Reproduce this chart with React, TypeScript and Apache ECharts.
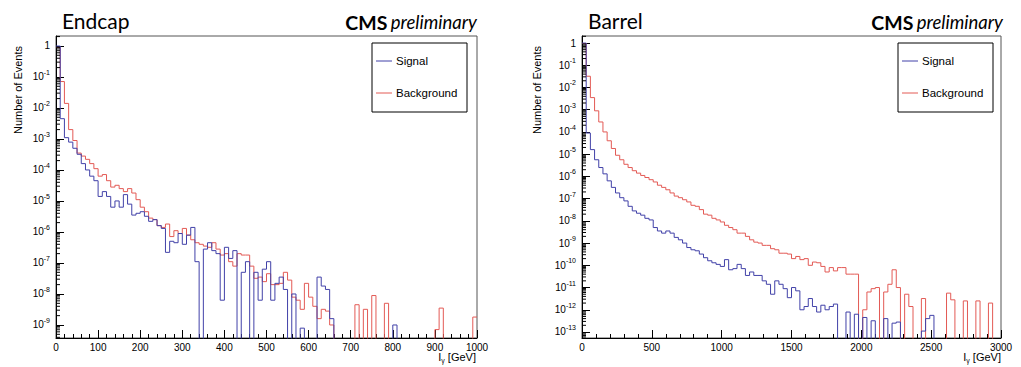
import React, { useEffect, useRef } from "react";
import * as echarts from "echarts";

// ---------------- data (normalised number of events per bin) ----------------
const endcapBinWidth = 10; // GeV, 100 bins from 0 to 1000
const barrelBinWidth = 30; // GeV, 100 bins from 0 to 3000

const endcapSignal = [
  0.99, 4.5e-3, 1.1e-3, 7.9e-4, 5.0e-4, 3.2e-4, 1.6e-4, 1.0e-4, 6.3e-5, 4.5e-5,
  1.4e-5, 2.0e-5, 1.4e-5, 6.3e-6, 1.0e-5, 6.3e-6, 1.6e-5, 7.9e-6, 3.5e-6, 4.0e-6,
  4.5e-6, 3.2e-6, 2.2e-6, 2.5e-6, 1.6e-6, 1.3e-6, 2.2e-7, 5.0e-7, 4.5e-7, 8.9e-7,
  4.0e-7, 7.9e-7, 1.4e-6, 1.1e-7, 0, 2.8e-7, 4.5e-7, 2.5e-7, 2.0e-7, 6.3e-9,
  3.2e-7, 1.4e-7, 2.5e-7, 0, 5.0e-8, 1.1e-7, 0, 5.0e-8, 6.3e-9, 6.3e-8,
  1.1e-7, 6.3e-9, 2.2e-8, 3.5e-8, 1.4e-8, 0, 1.0e-8, 0, 7.9e-10, 0,
  0, 0, 3.5e-8, 1.8e-8, 1.4e-8, 1.6e-9, 0, 0, 0, 0,
  0, 0, 0, 0, 0, 0, 0, 0, 0, 0,
  1.0e-9, 0, 0, 0, 0, 0, 0, 0, 0, 0,
  0, 0, 0, 0, 0, 0, 0, 0, 0, 0,
];

const endcapBackground = [
  0.89, 7.1e-2, 1.4e-2, 2.0e-3, 8.9e-4, 3.5e-4, 2.8e-4, 2.2e-4, 1.6e-4, 1.1e-4,
  6.3e-5, 7.1e-5, 4.5e-5, 2.8e-5, 3.2e-5, 2.5e-5, 2.0e-5, 2.5e-5, 1.8e-5, 1.1e-5,
  6.3e-6, 4.5e-6, 2.8e-6, 2.5e-6, 1.6e-6, 1.4e-6, 1.8e-6, 7.1e-7, 1.1e-6, 8.9e-7,
  1.3e-6, 7.9e-7, 5.6e-7, 4.5e-7, 4.0e-7, 3.5e-7, 3.2e-7, 4.5e-7, 2.8e-7, 1.8e-7,
  2.0e-7, 1.1e-7, 7.9e-8, 2.0e-7, 1.8e-7, 1.8e-7, 7.9e-8, 3.2e-8, 3.5e-8, 2.5e-8,
  4.5e-8, 2.0e-8, 2.0e-8, 2.2e-8, 5.0e-8, 2.8e-8, 7.9e-9, 6.3e-9, 3.2e-9, 2.2e-8,
  7.9e-9, 4.0e-9, 1.6e-9, 3.2e-9, 2.8e-9, 1.0e-9, 0, 0, 0, 0,
  0, 4.5e-9, 0, 3.2e-9, 0, 8.9e-9, 0, 0, 5.0e-9, 0,
  0, 0, 0, 0, 0, 0, 0, 0, 0, 0,
  7.1e-10, 3.5e-9, 0, 0, 0, 0, 0, 0, 0, 1.8e-9,
];

const barrelSignal = [
  0.99, 8.9e-5, 1.6e-5, 5.6e-6, 2.5e-6, 1.3e-6, 6.3e-7, 3.2e-7, 1.8e-7, 1.1e-7,
  7.9e-8, 4.5e-8, 2.8e-8, 2.2e-8, 1.8e-8, 1.3e-8, 1.1e-8, 5.0e-9, 3.5e-9, 2.8e-9,
  3.5e-9, 2.8e-9, 1.8e-9, 1.4e-9, 1.0e-9, 6.3e-10, 5.0e-10, 4.5e-10, 3.2e-10, 2.2e-10,
  1.6e-10, 1.3e-10, 1.1e-10, 8.9e-11, 1.8e-10, 6.3e-11, 7.1e-11, 1.1e-10, 7.1e-11, 3.5e-11,
  5.0e-11, 3.5e-11, 3.5e-11, 2.0e-11, 1.4e-11, 5.0e-12, 2.0e-11, 1.4e-11, 8.9e-12, 3.5e-12,
  1.0e-11, 7.1e-12, 1.0e-12, 1.4e-12, 3.2e-12, 1.4e-12, 7.9e-13, 1.6e-12, 1.0e-12, 1.4e-12,
  1.8e-12, 0, 0, 7.9e-13, 0, 6.3e-13, 0, 4.5e-13, 0, 3.2e-13,
  0, 0, 4.0e-13, 0, 2.5e-13, 2.8e-13, 0, 0, 0, 0,
  0, 1.1e-13, 4.0e-13, 5.6e-13, 0, 0, 0, 0, 0, 0,
  0, 0, 0, 0, 0, 0, 0, 0, 0, 0,
];

const barrelBackground = [
  0.95, 3.2e-2, 3.5e-3, 8.9e-4, 2.8e-4, 1.0e-4, 4.0e-5, 1.8e-5, 8.9e-6, 5.6e-6,
  3.5e-6, 2.5e-6, 1.8e-6, 1.4e-6, 1.1e-6, 8.9e-7, 7.1e-7, 5.6e-7, 4.0e-7, 3.2e-7,
  2.5e-7, 1.8e-7, 1.3e-7, 1.1e-7, 8.9e-8, 7.1e-8, 5.0e-8, 4.5e-8, 3.2e-8, 2.0e-8,
  1.8e-8, 1.3e-8, 1.1e-8, 8.9e-9, 6.3e-9, 5.0e-9, 4.0e-9, 2.8e-9, 2.8e-9, 2.0e-9,
  1.4e-9, 1.1e-9, 1.0e-9, 7.9e-10, 7.9e-10, 5.6e-10, 5.0e-10, 3.5e-10, 3.5e-10, 3.2e-10,
  2.0e-10, 2.5e-10, 1.8e-10, 2.0e-10, 1.0e-10, 1.4e-10, 1.3e-10, 8.9e-11, 5.0e-11, 7.9e-11,
  5.6e-11, 7.9e-11, 7.9e-11, 4.0e-11, 4.0e-11, 4.0e-11, 0, 1.0e-12, 6.3e-12, 8.9e-12,
  1.0e-11, 0, 6.3e-12, 1.4e-11, 6.3e-11, 1.0e-11, 0, 5.0e-12, 1.4e-12, 0,
  0, 3.2e-12, 0, 0, 0, 0, 0, 5.6e-12, 2.8e-12, 0,
  0, 2.5e-12, 0, 0, 2.5e-12, 0, 0, 2.0e-12, 0, 0,
];

// axis ranges (log10 of number of events) and x ranges
const endcapYRange = [-9.42, 0.32];
const barrelYRange = [-13.27, 0.315];
const endcapXMax = 1000;
const barrelXMax = 3000;
const endcapXInterval = 100;
const barrelXInterval = 500;

const panelTitles = ["Endcap", "Barrel"];
const legendNames = ["Signal", "Background"];
const yTitle = "Number of Events";

// ---------------- styling ----------------
const FONT = "'Liberation Sans', Arial, Helvetica, sans-serif";
const TITLE_FONT = "Lato, 'Open Sans', sans-serif";
const BLUE = "#4141a8";
const RED = "#e35a55";

const toLog = (v: number) => (v > 0 ? Math.log10(v) : -40);

function histogram(values: number[], width: number) {
  const pts: number[][] = values.map((v, i) => [i * width, toLog(v)]);
  pts.push([values.length * width, toLog(values[values.length - 1])]);
  return pts;
}

function minorTickPositions(range: number[]) {
  const out: number[][] = [];
  for (let n = Math.floor(range[0]); n <= Math.ceil(range[1]); n++) {
    for (let k = 2; k <= 9; k++) {
      const y = n + Math.log10(k);
      if (y > range[0] && y < range[1]) out.push([0, y]);
    }
  }
  return out;
}

const grids = [
  { left: 56, top: 36, width: 421, height: 302 },
  { left: 582, top: 36, width: 419, height: 302 },
];

function xAxis(gridIndex: number, max: number, interval: number) {
  return {
    type: "value",
    gridIndex,
    min: 0,
    max,
    interval,
    axisLine: { show: true, onZero: false, lineStyle: { color: "#000", width: 1 } },
    axisTick: { show: true, inside: true, length: 8, lineStyle: { color: "#000", width: 1 } },
    minorTick: { show: true, splitNumber: 5, length: 4, lineStyle: { color: "#000", width: 1 } },
    splitLine: { show: false },
    minorSplitLine: { show: false },
    axisLabel: {
      color: "#000",
      fontFamily: FONT,
      fontSize: 10,
      margin: 4,
      formatter: (v: number) => String(Math.round(v)),
    },
  };
}

function yAxis(gridIndex: number, range: number[]) {
  return {
    type: "value",
    gridIndex,
    min: range[0],
    max: range[1],
    minInterval: 1,
    maxInterval: 1,
    axisLine: { show: true, onZero: false, lineStyle: { color: "#000", width: 1 } },
    axisTick: { show: true, inside: true, length: 8, lineStyle: { color: "#000", width: 1 } },
    splitLine: { show: false },
    axisLabel: {
      showMinLabel: false,
      showMaxLabel: false,
      margin: 6,
      color: "#000",
      formatter: (v: number) => {
        const n = Math.round(v);
        if (Math.abs(v - n) > 1e-6) return "";
        if (n === 0) return "{b|1}";
        return `{b|10}{s|${n}}`;
      },
      rich: {
        b: { fontFamily: FONT, fontSize: 10, lineHeight: 16, color: "#000" },
        s: { fontFamily: FONT, fontSize: 7, lineHeight: 8, verticalAlign: "top", color: "#000" },
      },
    },
  };
}

function minorTickSeries(index: number, range: number[]) {
  return {
    type: "custom",
    xAxisIndex: index,
    yAxisIndex: index,
    silent: true,
    clip: false,
    z: 6,
    data: minorTickPositions(range),
    renderItem: (_params: any, api: any) => {
      const p = api.coord([api.value(0), api.value(1)]);
      return {
        type: "line",
        shape: { x1: p[0], y1: p[1], x2: p[0] + 4, y2: p[1] },
        style: { stroke: "#000", lineWidth: 1 },
      };
    },
  };
}

function histSeries(index: number, name: string, values: number[], width: number, color: string, z: number) {
  return {
    type: "line",
    name,
    xAxisIndex: index,
    yAxisIndex: index,
    step: "end",
    data: histogram(values, width),
    showSymbol: false,
    symbol: "none",
    clip: true,
    lineStyle: { color, width: 1 },
    itemStyle: { color },
    z,
  };
}

function legendBox(x: number) {
  const lineX0 = x + 4;
  const lineX1 = x + 20;
  const textX = x + 24;
  return [
    {
      type: "rect",
      shape: { x, y: 43, width: 95, height: 69 },
      style: { fill: "#fff", stroke: "#000", lineWidth: 1 },
      z: 10,
    },
    {
      type: "line",
      shape: { x1: lineX0, y1: 61, x2: lineX1, y2: 61 },
      style: { stroke: BLUE, lineWidth: 1 },
      z: 11,
    },
    {
      type: "text",
      style: { text: legendNames[0], x: textX, y: 61, fontFamily: FONT, fontSize: 11.5, fill: "#000", align: "left", verticalAlign: "middle", textAlign: "left", textVerticalAlign: "middle" },
      z: 11,
    },
    {
      type: "line",
      shape: { x1: lineX0, y1: 93, x2: lineX1, y2: 93 },
      style: { stroke: RED, lineWidth: 1 },
      z: 11,
    },
    {
      type: "text",
      style: { text: legendNames[1], x: textX, y: 93, fontFamily: FONT, fontSize: 11.5, fill: "#000", align: "left", verticalAlign: "middle", textAlign: "left", textVerticalAlign: "middle" },
      z: 11,
    },
  ];
}

function panelTexts(title: string, titleX: number, cmsRight: number, yTitleX: number, xTitleRight: number) {
  return [
    {
      type: "text",
      style: { text: title, x: titleX, y: 20, fontFamily: TITLE_FONT, fontSize: 21, fill: "#000", align: "left", verticalAlign: "middle", textAlign: "left", textVerticalAlign: "middle" },
    },
    {
      type: "text",
      style: {
        text: "{c|CMS} {p|preliminary}",
        x: cmsRight,
        y: 22,
        align: "right",
        verticalAlign: "middle",
        textAlign: "right",
        textVerticalAlign: "middle",
        rich: {
          c: { fontFamily: TITLE_FONT, fontSize: 19.5, fontWeight: "bold", fill: "#000", lineHeight: 22 },
          p: { fontFamily: TITLE_FONT, fontSize: 18.5, fontStyle: "italic", fill: "#000", lineHeight: 22 },
        },
      },
    },
    {
      type: "text",
      x: yTitleX,
      y: 90,
      rotation: Math.PI / 2,
      style: { text: yTitle, x: 0, y: 0, fontFamily: FONT, fontSize: 11, fill: "#000", align: "center", verticalAlign: "middle", textAlign: "center", textVerticalAlign: "middle" },
    },
    {
      type: "text",
      style: {
        text: "{i|I}{g|γ}{t| [GeV]}",
        x: xTitleRight,
        y: 357,
        align: "right",
        verticalAlign: "middle",
        textAlign: "right",
        textVerticalAlign: "middle",
        rich: {
          i: { fontFamily: FONT, fontSize: 11, fill: "#000", lineHeight: 14 },
          g: { fontFamily: FONT, fontSize: 7, fill: "#000", lineHeight: 7, verticalAlign: "bottom" },
          t: { fontFamily: FONT, fontSize: 11, fill: "#000", lineHeight: 14 },
        },
      },
    },
  ];
}

export default function App() {
  const ref = useRef<HTMLDivElement>(null);

  useEffect(() => {
    if (!ref.current) return;
    const chart = echarts.init(ref.current, undefined, { renderer: "svg" });
    const option: any = {
      animation: false,
      backgroundColor: "#fff",
      grid: grids.map((g) => ({ ...g, show: true, borderColor: "#555", borderWidth: 1, backgroundColor: "transparent", containLabel: false })),
      xAxis: [xAxis(0, endcapXMax, endcapXInterval), xAxis(1, barrelXMax, barrelXInterval)],
      yAxis: [yAxis(0, endcapYRange), yAxis(1, barrelYRange)],
      series: [
        histSeries(0, legendNames[1], endcapBackground, endcapBinWidth, RED, 3),
        histSeries(0, legendNames[0], endcapSignal, endcapBinWidth, BLUE, 4),
        histSeries(1, legendNames[1], barrelBackground, barrelBinWidth, RED, 3),
        histSeries(1, legendNames[0], barrelSignal, barrelBinWidth, BLUE, 4),
        minorTickSeries(0, endcapYRange),
        minorTickSeries(1, barrelYRange),
      ],
      graphic: [
        ...panelTexts(panelTitles[0], 62, 477, 18, 476),
        ...panelTexts(panelTitles[1], 588, 1003, 537, 1001),
        ...legendBox(372),
        ...legendBox(898),
      ],
    };
    chart.setOption(option);
    return () => chart.dispose();
  }, []);

  return (
    <div
      ref={ref}
      style={{ position: "fixed", left: 0, top: 0, width: 1021, height: 367, background: "#fff" }}
    />
  );
}
